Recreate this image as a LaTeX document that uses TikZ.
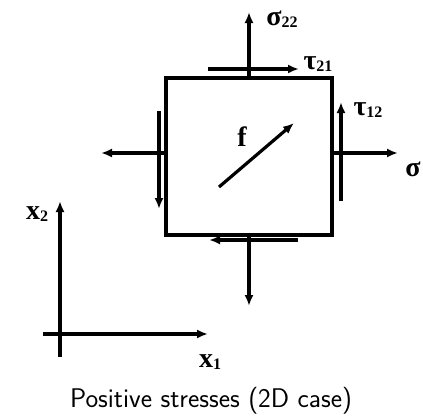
\documentclass[tikz,border=0pt]{standalone}
\usepackage{fontspec}
\setmainfont{Liberation Serif}
\usetikzlibrary{arrows.meta}
\newcommand{\lbl}[2]{{\fontsize{28}{30}\selectfont\bfseries #1}\raisebox{-0.45ex}{\fontsize{16}{18}\selectfont\bfseries #2}}
\begin{document}
\begin{tikzpicture}[x=1pt,y=-1pt,
  arr/.style={line width=3.2pt,-{Latex[length=11pt,width=9pt]}},
  lab/.style={inner sep=0pt}]
\useasboundingbox (0,0) rectangle (423,418);
% square
\node[draw,line width=3.2pt,minimum width=166pt,minimum height=157pt,inner sep=0pt] (sq) at (249,156.5) {};
% coordinates
\coordinate (ts) at (249,78);   \coordinate (te) at (249,12);
\coordinate (tt1) at (208,69);  \coordinate (tt2) at (299,69);
\coordinate (rs) at (332,153);  \coordinate (re) at (398,153);
\coordinate (rt1) at (341,201); \coordinate (rt2) at (341,102);
\coordinate (ls) at (166,153);  \coordinate (le) at (101,153);
\coordinate (lt1) at (159,111); \coordinate (lt2) at (159,209);
\coordinate (bs) at (249,235);  \coordinate (be) at (249,306);
\coordinate (bt1) at (298,240); \coordinate (bt2) at (209,240);
\coordinate (f1) at (219,187);  \coordinate (f2) at (294,123);
\coordinate (ay1) at (60,357);  \coordinate (ay2) at (60,201);
\coordinate (ax1) at (43,334);  \coordinate (ax2) at (208,334);
% arrows
\draw[arr] (ts) -- (te);
\draw[arr] (tt1) -- (tt2);
\draw[arr] (rs) -- (re);
\draw[arr] (rt1) -- (rt2);
\draw[arr] (ls) -- (le);
\draw[arr] (lt1) -- (lt2);
\draw[arr] (bs) -- (be);
\draw[arr] (bt1) -- (bt2);
\draw[arr] (f1) -- (f2);
\draw[arr] (ay1) -- (ay2);
\draw[arr] (ax1) -- (ax2);
% labels
\node[lab] (s22) at (282,19) {\lbl{σ}{22}};
\node[lab] (t21) at (318,64) {\lbl{τ}{21}};
\node[lab] (t12) at (368,110) {\lbl{τ}{12}};
\node[lab] (s) at (413,170) {\lbl{σ}{}};
\node[lab] (f) at (242,138) {\lbl{f}{}};
\node[lab] (x1) at (210,362) {\lbl{x}{1}};
\node[lab] (x2) at (37,214) {\lbl{x}{2}};
\node[lab] (cap) at (211,401) {\fontsize{27}{30}\selectfont\sffamily Positive stresses (2D case)};
\end{tikzpicture}
\end{document}
